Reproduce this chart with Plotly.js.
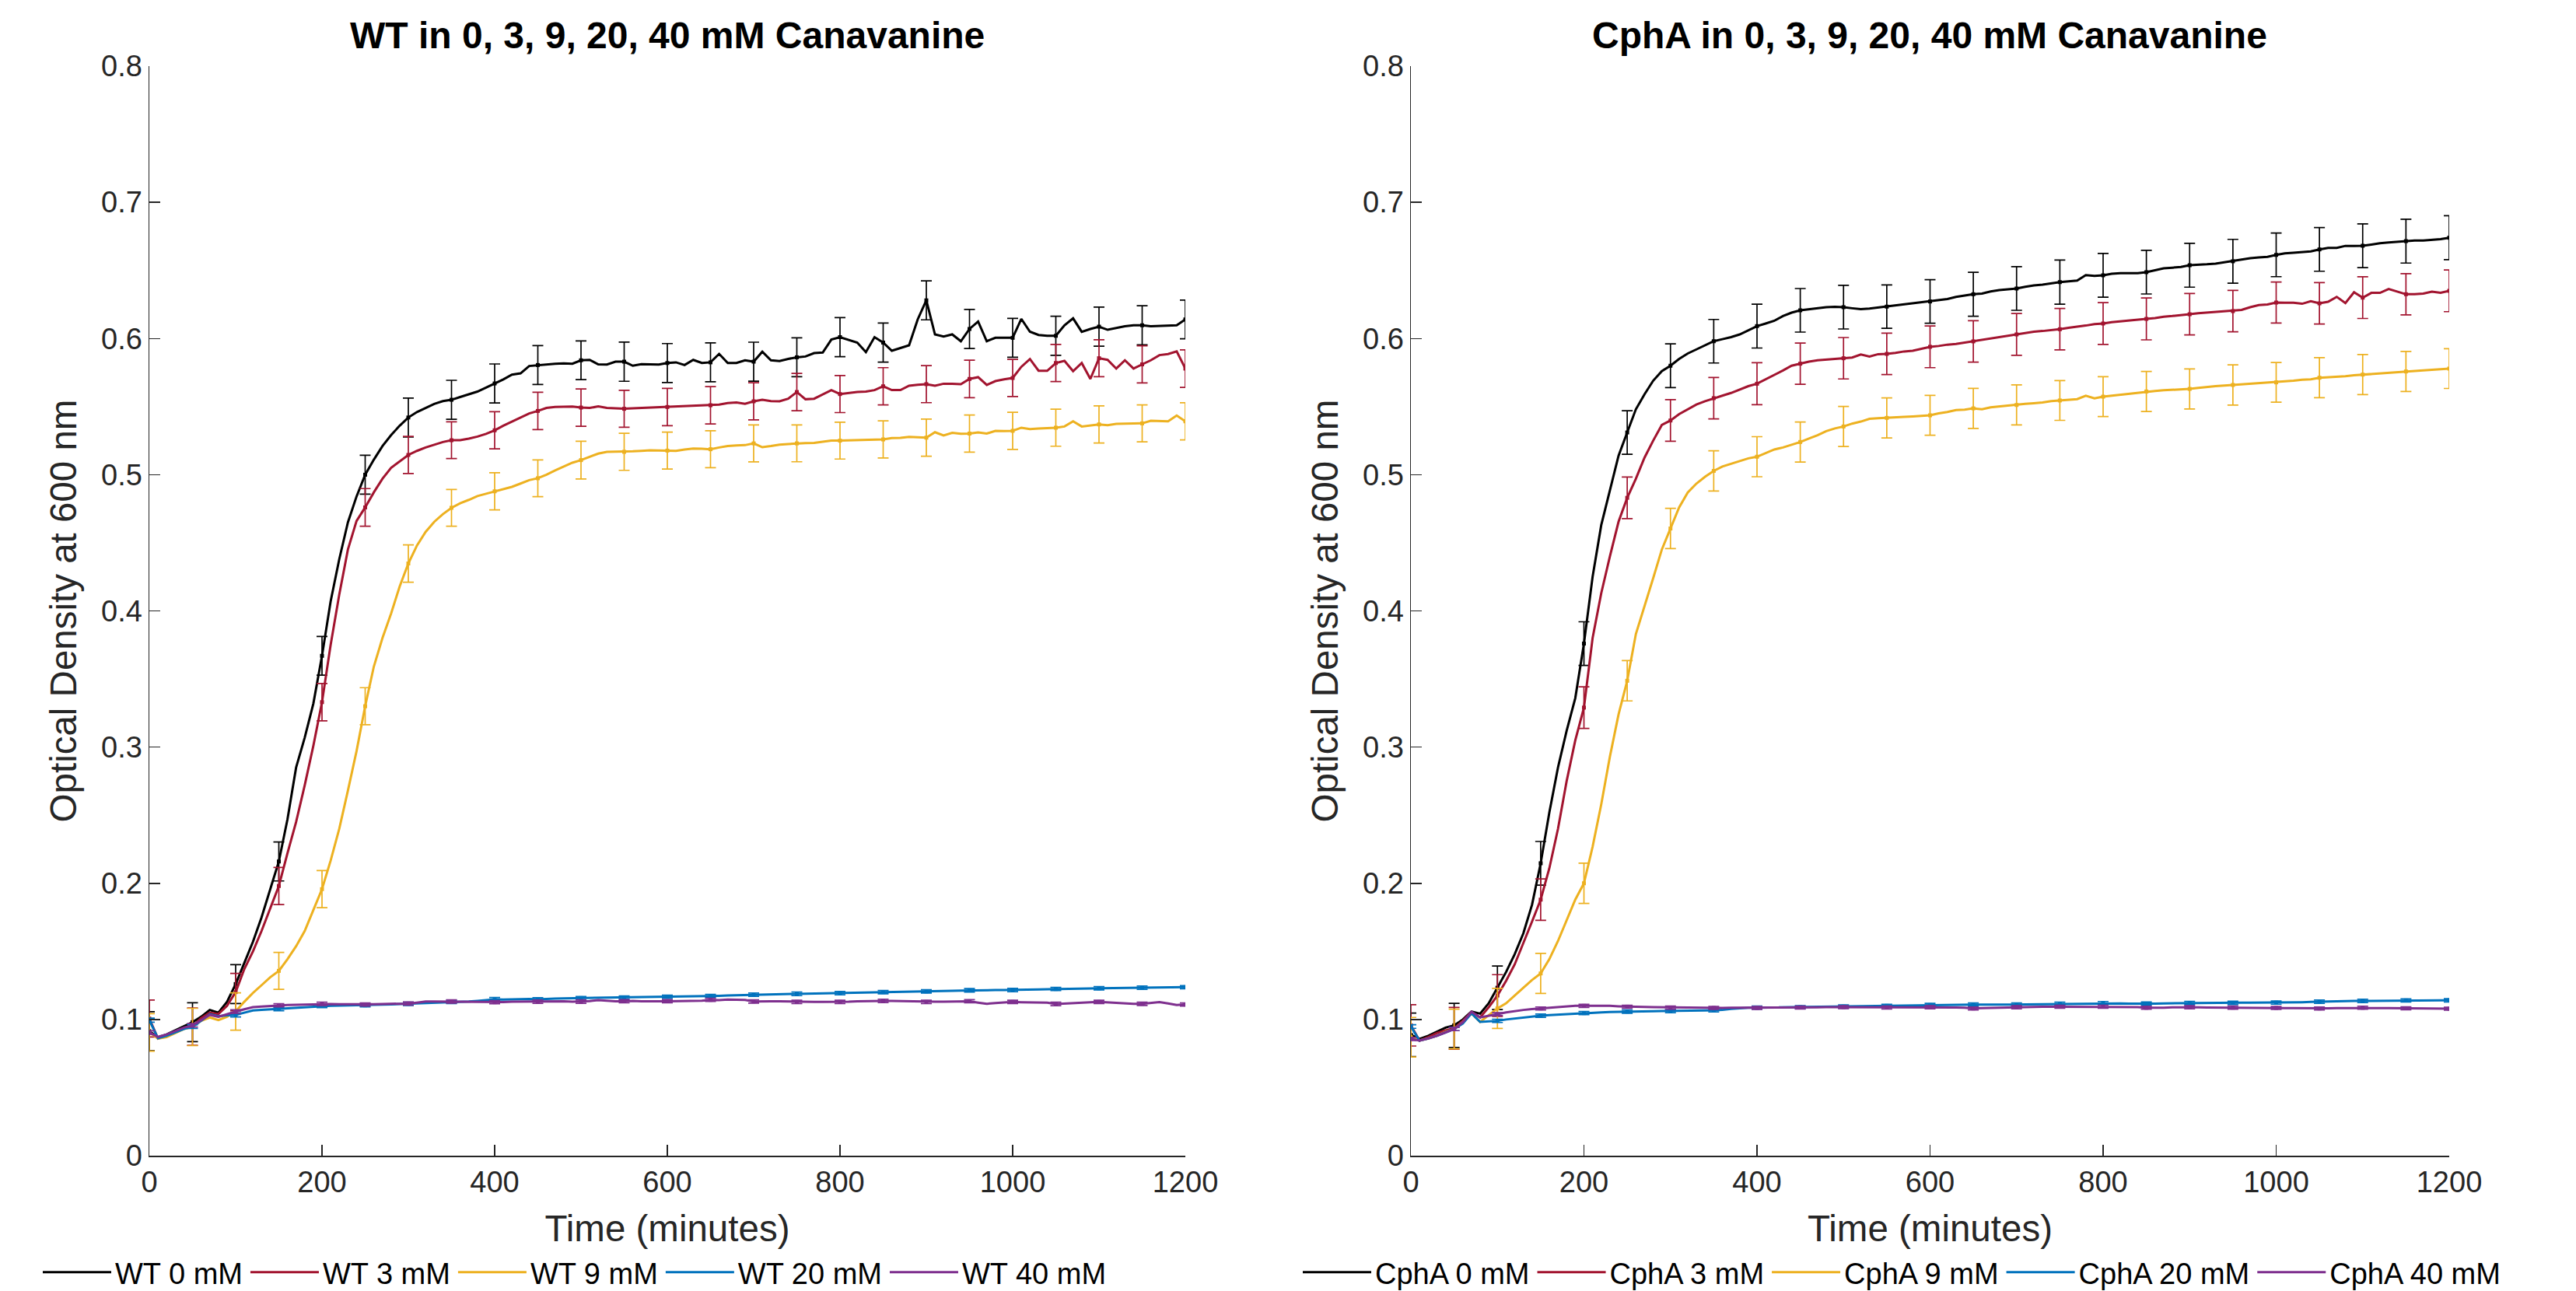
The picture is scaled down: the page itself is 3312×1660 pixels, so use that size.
<!DOCTYPE html>
<html>
<head>
<meta charset="utf-8">
<script src="https://cdn.plot.ly/plotly-3.0.1.min.js"></script>
<style>html,body{margin:0;padding:0;background:#fff;}#chart{width:3312px;height:1660px;}</style>
</head>
<body>
<div id="chart"></div>
<script>
// ---------------- DATA ----------------
const time = [0,10,20,30,40,50,60,70,80,90,
  100,110,120,130,140,150,160,170,180,190,
  200,210,220,230,240,250,260,270,280,290,
  300,310,320,330,340,350,360,370,380,390,
  400,410,420,430,440,450,460,470,480,490,
  500,510,520,530,540,550,560,570,580,590,
  600,610,620,630,640,650,660,670,680,690,
  700,710,720,730,740,750,760,770,780,790,
  800,810,820,830,840,850,860,870,880,890,
  900,910,920,930,940,950,960,970,980,990,
  1000,1010,1020,1030,1040,1050,1060,1070,1080,1090,
  1100,1110,1120,1130,1140,1150,1160,1170,1180,1190,
  1200];
const errTime = [0,50,100,150,200,250,300,350,400,450,500,550,600,650,700,750,800,850,900,950,1000,1050,1100,1150,1200];

const panelTitles = ['WT in 0, 3, 9, 20, 40 mM Canavanine', 'CphA in 0, 3, 9, 20, 40 mM Canavanine'];
const wtNames = ['WT 0 mM','WT 3 mM','WT 9 mM','WT 20 mM','WT 40 mM'];
const cphNames = ['CphA 0 mM','CphA 3 mM','CphA 9 mM','CphA 20 mM','CphA 40 mM'];
const xTitle = 'Time (minutes)';
const yTitle = 'Optical Density at 600 nm';

// WT panel
const wt0 = [.0914,.087,.089,.092,.095,.098,.102,.107,.105,.113,
  .126,.141,.157,.175,.195,.216,.247,.285,.307,.332,
  .367,.407,.438,.465,.484,.500,.511,.521,.529,.536,
  .542,.546,.549,.552,.554,.555,.557,.559,.561,.564,
  .567,.570,.5735,.5744,.5798,.5805,.581,.5815,.5817,.5815,
  .584,.5843,.581,.5809,.583,.583,.580,.5811,.581,.5809,
  .582,.5825,.5805,.5843,.582,.5825,.5887,.582,.582,.584,
  .583,.5903,.584,.5834,.585,.5862,.5868,.5893,.5897,.5992,
  .601,.599,.597,.590,.601,.597,.591,.593,.595,.614,
  .628,.603,.6015,.603,.598,.607,.6125,.598,.6005,.6005,
  .6005,.6144,.605,.6026,.602,.602,.6097,.6148,.6049,.607,
  .6087,.6064,.6077,.609,.6097,.6097,.609,.6093,.6093,.6097,
  .614];
const wt3 = [.1007,.086,.088,.091,.094,.0947,.101,.105,.104,.110,
  .1201,.137,.150,.165,.182,.198,.222,.245,.272,.301,
  .333,.375,.412,.445,.466,.476,.487,.497,.505,.510,
  .5145,.5175,.520,.522,.524,.5253,.5253,.5265,.528,.530,
  .5326,.536,.539,.5417,.545,.5468,.549,.5497,.550,.5501,
  .5493,.549,.5501,.549,.5487,.5484,.5487,.549,.549,.5492,
  .5497,.550,.5503,.5505,.5507,.551,.5515,.5526,.553,.552,
  .5539,.555,.554,.5539,.5558,.5607,.5554,.5558,.559,.5621,
  .5592,.560,.5607,.561,.5621,.5649,.5621,.5621,.5653,.566,
  .5665,.5653,.5668,.5667,.5665,.5703,.5716,.5659,.5687,.570,
  .571,.5792,.5849,.5763,.5763,.582,.5836,.576,.582,.5703,
  .5855,.5843,.5779,.584,.5779,.581,.584,.5878,.5886,.5906,
  .5779];
const wt9 = [.0905,.086,.087,.090,.093,.0945,.099,.1015,.0996,.102,
  .1059,.113,.1195,.1252,.131,.1357,.1443,.1538,.165,.1804,
  .1957,.2166,.240,.268,.297,.330,.359,.380,.398,.418,
  .4348,.448,.458,.4654,.471,.4757,.479,.4815,.4843,.486,
  .4878,.4895,.4911,.4935,.496,.4974,.500,.5031,.506,.5088,
  .5107,.513,.5155,.5168,.5168,.5168,.5172,.5175,.5179,.5178,
  .5177,.5175,.5185,.5192,.519,.5187,.520,.5211,.5215,.5217,
  .523,.5202,.521,.5221,.5225,.523,.5232,.5234,.524,.525,
  .525,.5252,.5254,.5256,.5258,.5259,.5269,.527,.5278,.5275,
  .5272,.5312,.5288,.5307,.530,.5302,.531,.5302,.5322,.532,
  .5322,.5345,.5335,.5339,.534,.5345,.5354,.5392,.5354,.536,
  .5369,.5364,.5373,.5375,.5376,.5377,.5396,.5394,.5392,.5434,
  .5392];
const wt20 = [.0995,.0862,.088,.0905,.093,.0948,.099,.1039,.1024,.103,
  .1034,.105,.1066,.107,.1074,.1077,.1083,.1088,.1092,.1096,
  .110,.1101,.1102,.1103,.1104,.1104,.1106,.1108,.111,.1113,
  .1115,.1118,.112,.1123,.1126,.1129,.113,.1132,.1137,.1142,
  .1148,.1147,.1149,.1148,.115,.1148,.1152,.1154,.1155,.1156,
  .1157,.1158,.1159,.116,.1159,.1161,.1162,.1163,.1164,.1165,
  .1167,.1168,.1169,.117,.1171,.1172,.1174,.1176,.1178,.118,
  .1182,.1183,.1184,.1186,.1187,.1188,.1189,.119,.1191,.1192,
  .1193,.1194,.1195,.1196,.1198,.1201,.1202,.1203,.1204,.1205,
  .1206,.1207,.1208,.121,.1212,.1214,.1215,.1214,.1216,.1216,
  .1216,.1217,.1218,.122,.1222,.1224,.1225,.1226,.1227,.1228,
  .1229,.123,.1231,.1232,.1233,.1233,.1234,.1235,.1236,.1236,
  .1237];
const wt40 = [.0904,.0872,.089,.0915,.094,.0957,.0995,.1034,.102,.104,
  .1058,.1075,.109,.1095,.110,.1104,.1106,.1108,.111,.1113,
  .1115,.1113,.1112,.1111,.111,.111,.1112,.1114,.1115,.1116,
  .1117,.1124,.1132,.1132,.1131,.1132,.113,.1129,.1129,.1128,
  .1127,.1128,.113,.1131,.1133,.1131,.1133,.1134,.1134,.1131,
  .1131,.1135,.1142,.1137,.1134,.1134,.1136,.1133,.1135,.1134,
  .1134,.1134,.1134,.1136,.1138,.1144,.1142,.1146,.1146,.1143,
  .1132,.1134,.1133,.1133,.1131,.1129,.1131,.1129,.1129,.1129,
  .1129,.1131,.1134,.1136,.1138,.1136,.1136,.1134,.1132,.1131,
  .1129,.113,.1131,.1133,.1134,.1134,.1124,.1115,.1121,.1124,
  .1129,.1127,.1127,.1128,.1124,.1114,.1118,.1121,.1124,.1126,
  .1129,.1125,.1122,.1118,.1115,.1115,.1121,.1127,.1118,.1106,
  .111];

// CphA panel
const cph0 = [.0887,.0857,.088,.091,.094,.0957,.100,.1058,.1043,.112,
  .1233,.1348,.148,.1633,.1842,.2147,.252,.285,.312,.336,
  .376,.425,.463,.489,.514,.531,.548,.559,.569,.576,
  .580,.585,.589,.592,.595,.598,.5995,.601,.603,.606,
  .6091,.611,.613,.6165,.619,.6207,.6215,.6225,.623,.6232,
  .623,.6222,.6215,.622,.6228,.6234,.624,.625,.6258,.6265,
  .6272,.628,.629,.6305,.6315,.6325,.633,.6345,.6355,.636,
  .6367,.638,.639,.6395,.6405,.6414,.642,.6425,.6465,.646,
  .6464,.6475,.648,.648,.648,.6487,.650,.6515,.652,.6525,
  .6538,.654,.6545,.655,.656,.6567,.658,.659,.6595,.660,
  .6614,.6625,.663,.6635,.664,.6654,.6665,.6665,.668,.668,
  .6681,.669,.670,.6705,.671,.6715,.672,.672,.6725,.673,
  .674];
const cph3 = [.0957,.0845,.087,.090,.092,.0935,.099,.1056,.1015,.109,
  .1176,.1283,.1405,.1557,.1719,.188,.211,.240,.275,.305,
  .329,.380,.413,.440,.4655,.483,.497,.5125,.525,.5365,
  .5398,.5445,.548,.5515,.554,.5562,.558,.560,.5625,.565,
  .5668,.570,.573,.5765,.580,.5815,.583,.584,.5845,.585,
  .5855,.586,.5882,.5868,.5885,.5887,.5895,.5905,.591,.5925,
  .5939,.5945,.5955,.596,.597,.5979,.599,.600,.601,.602,
  .603,.604,.605,.6055,.606,.6068,.6078,.6085,.6095,.6105,
  .611,.612,.6125,.613,.6135,.6144,.615,.616,.6165,.617,
  .6178,.6185,.619,.6195,.620,.6201,.621,.623,.6245,.625,
  .6264,.6262,.6262,.6255,.6274,.6258,.627,.6306,.626,.634,
  .630,.6335,.6335,.6363,.6344,.6325,.6325,.633,.6344,.6335,
  .635];
const cph9 = [.087,.0845,.086,.088,.091,.093,.098,.1045,.0982,.103,
  .1081,.1119,.1176,.1233,.129,.1338,.1443,.1576,.1728,.188,
  .200,.2268,.258,.293,.324,.3487,.383,.403,.424,.445,
  .4605,.476,.487,.4935,.4985,.5028,.506,.508,.510,.512,
  .5132,.516,.5185,.520,.522,.524,.5265,.529,.532,.534,
  .5354,.5375,.539,.541,.5415,.5417,.542,.5425,.5428,.5432,
  .5436,.545,.546,.5475,.5478,.5487,.548,.5495,.5502,.5508,
  .5512,.552,.5525,.553,.554,.5545,.555,.5555,.558,.556,
  .5573,.558,.559,.5595,.560,.5611,.5615,.562,.5622,.5625,
  .563,.5637,.5645,.565,.5655,.5659,.5665,.567,.5672,.5675,
  .5678,.5685,.569,.5697,.570,.5712,.5715,.5718,.5723,.573,
  .5735,.574,.5745,.575,.5755,.5758,.5762,.5766,.577,.5775,
  .5779];
const cph20 = [.0948,.0845,.086,.088,.0905,.093,.097,.1045,.0982,.0985,
  .099,.100,.1008,.1015,.1022,.1028,.1032,.1036,.104,.1044,
  .1047,.105,.1052,.1055,.1057,.1058,.106,.106,.1061,.1062,
  .1062,.1063,.1064,.1065,.1066,.1068,.107,.1078,.1083,.1086,
  .1087,.1088,.1088,.1089,.109,.109,.1091,.1092,.1093,.1094,
  .1095,.1096,.1097,.1098,.1099,.110,.1101,.1102,.1103,.1104,
  .1106,.1106,.1107,.1107,.1108,.1109,.1109,.1108,.1108,.1108,
  .1109,.111,.1111,.1112,.1113,.1115,.1116,.1117,.1118,.1119,
  .112,.1119,.1118,.1117,.1116,.1116,.1117,.1118,.1119,.112,
  .1121,.1121,.1122,.1122,.1122,.1122,.1123,.1123,.1123,.1123,
  .1124,.1125,.1126,.1127,.1129,.1131,.1133,.1134,.1135,.1136,
  .1136,.1137,.1137,.1138,.1139,.114,.114,.114,.1141,.1141,
  .1141];
const cph40 = [.0857,.0845,.086,.088,.0905,.093,.098,.1056,.1015,.1025,
  .1039,.1052,.1062,.107,.1076,.1081,.1088,.1093,.1097,.110,
  .110,.1101,.1101,.110,.1097,.1094,.1093,.1092,.109,.1089,
  .1087,.1086,.1086,.1085,.1085,.1085,.1085,.1086,.1086,.1085,
  .1085,.1086,.1087,.1088,.1088,.1088,.1088,.1089,.109,.109,
  .1091,.109,.1089,.1089,.1089,.1088,.1089,.109,.109,.109,
  .109,.109,.1089,.1088,.1086,.1081,.1083,.1085,.1088,.109,
  .109,.1091,.1093,.1094,.1094,.1094,.1094,.1094,.1094,.1094,
  .1094,.1094,.1093,.1091,.109,.1086,.1084,.1086,.1089,.109,
  .109,.1089,.1088,.1088,.1087,.1087,.1086,.1086,.1086,.1085,
  .1085,.1084,.1083,.1082,.1082,.1081,.1082,.1083,.1084,.1085,
  .1086,.1085,.1084,.1084,.1083,.1082,.1082,.1081,.108,.108,
  .1079];

// error bar half-lengths at errTime
const wt0Err  = [.0143,.0143,.0143,.0143,.0142,.0143,.0143,.0143,.0143,.0143,.0142,.0144,.0143,.0143,.0143,.0143,.0143,.0143,.0143,.0143,.0143,.0143,.0143,.0143,.0142];
const wt3Err  = [.0136,.0137,.0137,.0136,.0137,.0138,.0136,.0135,.0136,.0137,.0137,.0136,.0137,.0137,.0136,.0137,.0136,.0137,.0136,.0138,.0136,.0136,.0136,.0136,.0138];
const wt9Err  = [.0138,.0137,.0137,.0136,.0136,.0136,.0137,.0135,.0136,.0135,.0138,.0136,.0136,.0136,.0136,.0135,.0135,.0136,.0136,.0136,.0136,.0136,.0136,.0136,.0136];
const wt20Err = [.0015,.0014,.0015,.0013,.0013,.0012,.0012,.0012,.0013,.0012,.0012,.0012,.0012,.0012,.0012,.0013,.0012,.0012,.0012,.0013,.0012,.0012,.0012,.0012,.0012];
const wt40Err = [.0013,.0013,.0013,.0012,.0012,.0012,.0012,.0012,.0012,.0012,.0013,.0012,.0012,.0012,.0012,.0012,.0012,.0012,.0012,.0012,.0012,.0013,.0012,.0012,.0012];
const cph0Err  = [.016,.0162,.016,.016,.016,.016,.0161,.016,.0161,.016,.016,.0159,.016,.0161,.016,.0162,.0161,.016,.0161,.0161,.016,.016,.0161,.0161,.0161];
const cph3Err  = [.0152,.0153,.0153,.0152,.0153,.0153,.0153,.0152,.0154,.0151,.0152,.0152,.0153,.0152,.0154,.0152,.0153,.0154,.0152,.0152,.0151,.0152,.0153,.0151,.0153];
const cph9Err  = [.0145,.0146,.0147,.0147,.0148,.0148,.0148,.0148,.0147,.0147,.0147,.0147,.0146,.0147,.0147,.0146,.0146,.0147,.0147,.0148,.0146,.0147,.0147,.0147,.0146];
const cph20Err = [.0013,.0012,.0012,.0012,.0012,.0012,.0012,.0012,.0012,.0012,.0012,.0012,.0012,.0012,.0012,.0012,.0012,.0012,.0012,.0012,.0012,.0012,.0012,.0012,.0012];
const cph40Err = [.0012,.0012,.0011,.0011,.0011,.0011,.0011,.0011,.0011,.0011,.0011,.0011,.0011,.0011,.0011,.0011,.0011,.0011,.0011,.0011,.0011,.0011,.0011,.0011,.0011];

// ---------------- STYLE ----------------
const colors = ['#000000','#A2142F','#EDB120','#0072BD','#7E2F8E'];
const FONT = 'Liberation Sans, Arial, Helvetica, sans-serif';
const W = 3312, H = 1660;

const panels = [
  {names: wtNames, series: [wt0, wt3, wt9, wt20, wt40], errs: [wt0Err, wt3Err, wt9Err, wt20Err, wt40Err], xa: 'x', ya: 'y', legend: 'legend'},
  {names: cphNames, series: [cph0, cph3, cph9, cph20, cph40], errs: [cph0Err, cph3Err, cph9Err, cph20Err, cph40Err], xa: 'x2', ya: 'y2', legend: 'legend2'}
];

function pick(values) { return errTime.map(t => values[time.indexOf(t)]); }

const traces = [];
panels.forEach(p => {
  p.series.forEach((vals, i) => {
    traces.push({
      type: 'scatter', mode: 'lines', x: time, y: vals, name: p.names[i],
      xaxis: p.xa, yaxis: p.ya, legend: p.legend,
      line: {color: colors[i], width: 3}, hoverinfo: 'x+y+name'
    });
    traces.push({
      type: 'scatter', mode: 'markers', x: errTime, y: pick(vals), name: p.names[i],
      xaxis: p.xa, yaxis: p.ya, showlegend: false,
      marker: {symbol: 'square', size: 5, color: colors[i]},
      error_y: {type: 'data', array: p.errs[i], visible: true, color: colors[i], thickness: 1.7, width: 7}
    });
  });
});

function px(x) { return x / W; }
function py(y) { return 1 - y / H; }

const yDomain = [py(1486), py(85)];
function xaxisDef(dom) {
  return {
    domain: dom, range: [0, 1200], dtick: 200, tick0: 0,
    ticks: 'inside', ticklen: 14, tickwidth: 1.5, tickcolor: '#262626',
    showline: true, linecolor: '#262626', linewidth: 1.5, mirror: false,
    showgrid: false, zeroline: false,
    tickfont: {family: FONT, size: 38, color: '#262626'},
    title: {text: xTitle, font: {family: FONT, size: 47.5, color: '#262626'}, standoff: 22}
  };
}
function yaxisDef(anchor) {
  return {
    domain: yDomain, range: [0, 0.8], dtick: 0.1, tick0: 0, anchor: anchor,
    ticks: 'inside', ticklen: 14, tickwidth: 1.5, tickcolor: '#262626',
    showline: true, linecolor: '#262626', linewidth: 1.5, mirror: false,
    showgrid: false, zeroline: false,
    tickfont: {family: FONT, size: 38, color: '#262626'},
    title: {text: yTitle, font: {family: FONT, size: 47.5, color: '#262626'}, standoff: 16}
  };
}

const legendDef = (x) => ({
  orientation: 'h', x: x, xanchor: 'left', y: py(1636), yanchor: 'middle',
  font: {family: FONT, size: 38, color: '#000000'}, itemwidth: 88,
  bgcolor: 'rgba(0,0,0,0)', borderwidth: 0, itemclick: false, itemdoubleclick: false
});

const layout = {
  width: W, height: H,
  margin: {l: 0, r: 0, t: 0, b: 0, pad: 0, autoexpand: false},
  paper_bgcolor: '#ffffff', plot_bgcolor: '#ffffff',
  font: {family: FONT, color: '#262626'},
  xaxis: Object.assign(xaxisDef([px(192), px(1524)]), {anchor: 'y'}),
  yaxis: yaxisDef('x'),
  xaxis2: Object.assign(xaxisDef([px(1814), px(3149)]), {anchor: 'y2'}),
  yaxis2: yaxisDef('x2'),
  legend: legendDef(px(50)),
  legend2: legendDef(px(1670)),
  showlegend: true,
  annotations: [
    {text: panelTitles[0], xref: 'paper', yref: 'paper', x: px(858), y: py(46), xanchor: 'center', yanchor: 'middle', showarrow: false,
     font: {family: FONT, size: 48, color: '#000000', weight: 'bold'}},
    {text: panelTitles[1], xref: 'paper', yref: 'paper', x: px(2481), y: py(46), xanchor: 'center', yanchor: 'middle', showarrow: false,
     font: {family: FONT, size: 48, color: '#000000', weight: 'bold'}}
  ]
};

Plotly.newPlot('chart', traces, layout, {staticPlot: true, displayModeBar: false});
</script>
</body>
</html>
